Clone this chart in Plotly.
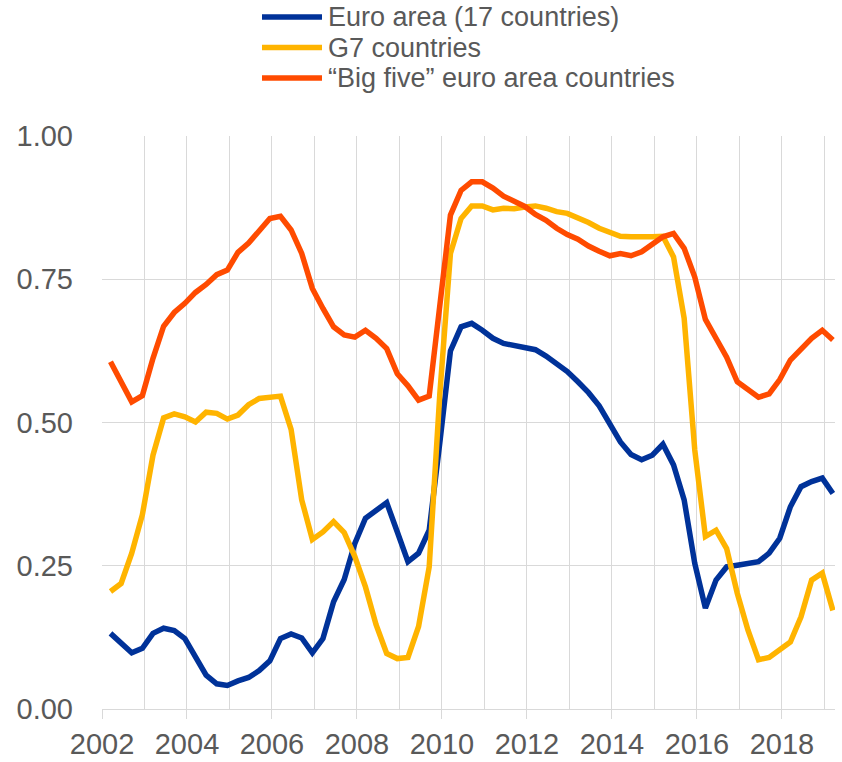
import plotly.graph_objects as go

# Quarterly observations, Q2 2002 .. Q2 2019
start_year = 2002.2
n_obs = 69
quarters = [round(start_year + 0.25 * i, 3) for i in range(n_obs)]

series_names = ["Euro area (17 countries)", "G7 countries", "\u201cBig five\u201d euro area countries"]

euro_area = [0.132, 0.116, 0.098, 0.106, 0.132, 0.141, 0.137, 0.123, 0.092, 0.059,
             0.044, 0.041, 0.049, 0.055, 0.067, 0.084, 0.123, 0.131, 0.124, 0.098,
             0.123, 0.187, 0.226, 0.289, 0.333, 0.346, 0.360, 0.309, 0.257, 0.272,
             0.312, 0.465, 0.625, 0.667, 0.673, 0.661, 0.647, 0.638, 0.635, 0.632,
             0.627, 0.616, 0.603, 0.589, 0.571, 0.552, 0.529, 0.498, 0.466, 0.444,
             0.435, 0.443, 0.462, 0.426, 0.365, 0.254, 0.176, 0.225, 0.248, 0.251,
             0.253, 0.257, 0.272, 0.298, 0.353, 0.388, 0.397, 0.403, 0.376]

g7 = [0.205, 0.219, 0.272, 0.339, 0.443, 0.508, 0.515, 0.510, 0.501, 0.518,
      0.516, 0.506, 0.513, 0.531, 0.542, 0.545, 0.546, 0.488, 0.365, 0.296,
      0.309, 0.327, 0.308, 0.266, 0.213, 0.147, 0.097, 0.088, 0.090, 0.144,
      0.248, 0.550, 0.795, 0.856, 0.878, 0.878, 0.871, 0.874, 0.873, 0.876,
      0.878, 0.874, 0.868, 0.865, 0.858, 0.849, 0.839, 0.831, 0.825, 0.824,
      0.823, 0.824, 0.825, 0.789, 0.682, 0.452, 0.301, 0.312, 0.280, 0.202,
      0.138, 0.086, 0.090, 0.104, 0.117, 0.161, 0.225, 0.237, 0.172]

big_five = [0.606, 0.571, 0.536, 0.547, 0.612, 0.668, 0.692, 0.708, 0.727, 0.741,
            0.758, 0.766, 0.797, 0.813, 0.836, 0.856, 0.860, 0.836, 0.795, 0.734,
            0.699, 0.667, 0.653, 0.649, 0.661, 0.647, 0.629, 0.585, 0.564, 0.539,
            0.546, 0.705, 0.862, 0.905, 0.920, 0.920, 0.909, 0.895, 0.887, 0.877,
            0.863, 0.853, 0.839, 0.828, 0.820, 0.808, 0.799, 0.791, 0.795, 0.791,
            0.798, 0.810, 0.824, 0.830, 0.804, 0.754, 0.680, 0.647, 0.614, 0.571,
            0.557, 0.544, 0.550, 0.575, 0.609, 0.627, 0.647, 0.661, 0.644]

y_tickvals = [0.0, 0.25, 0.5, 0.75, 1.0]
y_ticktext = ["0.00", "0.25", "0.50", "0.75", "1.00"]
x_tickvals = [2002, 2004, 2006, 2008, 2010, 2012, 2014, 2016, 2018]
x_ticktext = [str(v) for v in x_tickvals]

colors = ["#003299", "#FFB400", "#FF4B00"]
data_series = [euro_area, g7, big_five]

W, H = 842, 762
PLOT_L, PLOT_R, PLOT_T, PLOT_B = 102, 835, 136, 709
L, R, T, B = PLOT_L, W - PLOT_R, PLOT_T, H - PLOT_B
PW, PH = W - L - R, H - T - B


def px_x(px):
    return (px - L) / PW


def px_y(py):
    return (PLOT_B - py) / PH


FONT = "Liberation Sans, Arial, sans-serif"
TXT = "#595959"
GRID = "#d9d9d9"

fig = go.Figure()
for name, vals, col in zip(series_names, data_series, colors):
    fig.add_trace(go.Scatter(x=quarters, y=vals, mode="lines", name=name,
                             line=dict(color=col, width=5.5), showlegend=False))

# Custom legend (long line samples, as in the original)
legend_rows = [17, 47.5, 78]
for name, col, ry in zip(series_names, colors, legend_rows):
    fig.add_shape(type="line", xref="paper", yref="paper",
                  x0=px_x(262), x1=px_x(322), y0=px_y(ry), y1=px_y(ry),
                  line=dict(color=col, width=5.5))
    fig.add_annotation(xref="paper", yref="paper", x=px_x(326), y=px_y(ry),
                       xanchor="left", yanchor="middle", showarrow=False,
                       text=name, font=dict(family=FONT, size=27, color=TXT))

fig.update_layout(
    width=W, height=H,
    margin=dict(l=L, r=R, t=T, b=B, pad=0, autoexpand=False),
    paper_bgcolor="white", plot_bgcolor="white",
    font=dict(family=FONT, color=TXT),
)
fig.update_xaxes(
    range=[2002, 2019.25], automargin=False,
    tickmode="array", tickvals=x_tickvals, ticktext=x_ticktext,
    ticks="outside", ticklen=9, tickcolor=GRID, tickwidth=1,
    showgrid=True, gridcolor=GRID, gridwidth=1,
    minor=dict(dtick=1, tick0=2002, showgrid=True, gridcolor=GRID, gridwidth=1, ticks=""),
    showline=True, linecolor=GRID, linewidth=1,
    zeroline=False,
    tickfont=dict(family=FONT, size=29, color=TXT),
    ticklabelstandoff=0,
)
fig.update_yaxes(
    range=[0, 1], automargin=False,
    tickmode="array", tickvals=y_tickvals, ticktext=y_ticktext,
    showgrid=True, gridcolor=GRID, gridwidth=1,
    zeroline=False, showline=False, ticks="",
    tickfont=dict(family=FONT, size=29, color=TXT),
    ticklabelstandoff=28,
)

# the page body has no margin so the figure fills the window exactly
fig.write_html("out.html", config={"displayModeBar": False},
               post_script="document.body.style.margin='0';")
